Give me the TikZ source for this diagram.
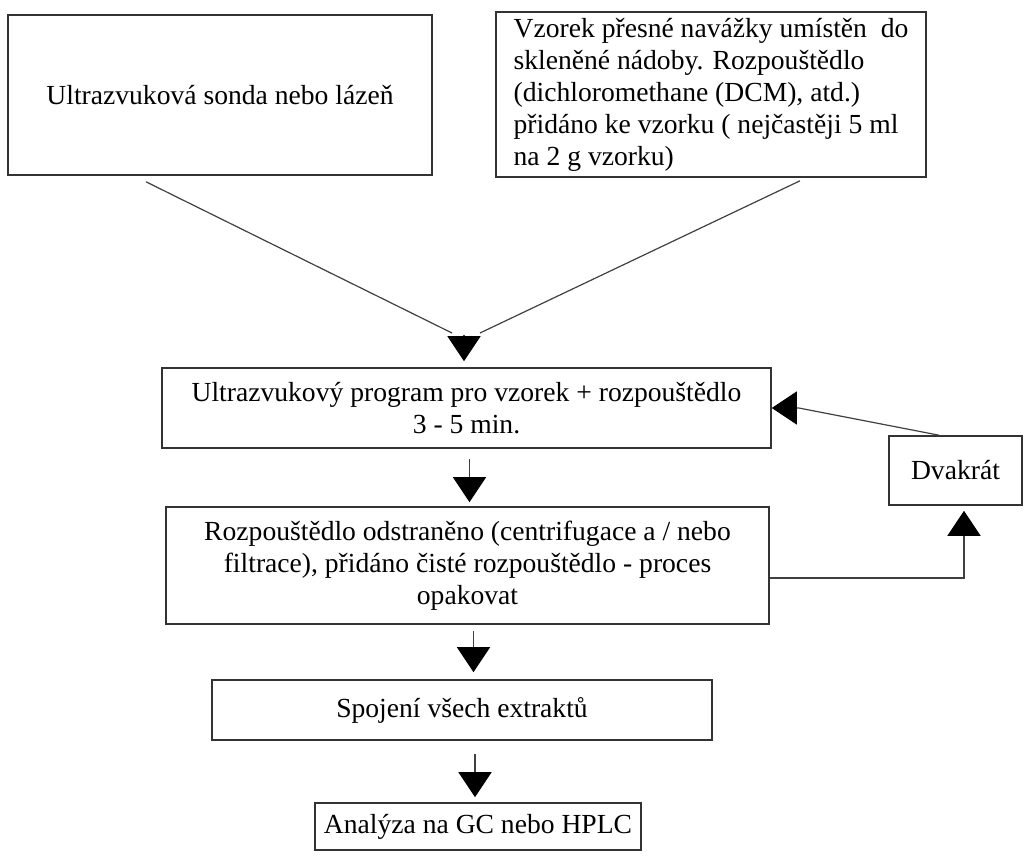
\documentclass[tikz,border=0pt]{standalone}
\usepackage{fontspec}
\setmainfont{Liberation Serif}
\usetikzlibrary{arrows.meta,calc}

\tikzset{
    box/.style={draw=black!80, line width=0.8pt, inner sep=0pt, align=center,
        font=\fontsize{13.8}{16}\selectfont},
    link/.style={draw=black!75, line width=0.6pt},
    flow/.style={link, -{Triangle[width=16.5pt,length=12.5pt,color=black]}},
}

\begin{document}
\begin{tikzpicture}[x=0.5pt, y=-0.5pt]
    \useasboundingbox (0,0) rectangle (1028,856);
    \node[box, minimum width=212pt, minimum height=80pt] (sonda) at (220,95) {Ultrazvuková sonda nebo lázeň};
    \node[box, align=left, minimum width=215pt, minimum height=82.5pt] (vzorek) at (711,94.5)
        {Vzorek přesné navážky umístěn \ do\\skleněné nádoby. Rozpouštědlo\\(dichloromethane (DCM), atd.)\\přidáno ke vzorku ( nejčastěji 5 ml\\na 2 g vzorku)};
    \node[box, minimum width=304.5pt, minimum height=40pt] (program) at (466.5,408)
        {Ultrazvukový program pro vzorek + rozpouštědlo\\3 - 5 min.};
    \node[box, minimum width=66.5pt, minimum height=34.5pt] (dvakrat) at (955.5,470.5) {Dvakrát};
    \node[box, minimum width=301.5pt, minimum height=58.5pt] (odstran) at (467.5,565.5)
        {Rozpouštědlo odstraněno (centrifugace a / nebo\\filtrace), přidáno čisté rozpouštědlo - proces\\opakovat};
    \node[box, minimum width=250pt, minimum height=30pt] (spojeni) at (462,710) {Spojení všech extraktů};
    \node[box, minimum width=163pt, minimum height=23.5pt] (analyza) at (478,826.5) {Analýza na GC nebo HPLC};

    \coordinate (meet) at (464,335);
    \coordinate (out1) at ($(program.south)+(3,0)$);
    \coordinate (out2) at ($(odstran.south)+(6,0)$);
    \coordinate (out3) at ($(spojeni.south)+(13,0)$);
    \coordinate (back) at ($(odstran.east)+(0,12.5)$);
    \coordinate (up) at ($(dvakrat.south)+(8.5,0)$);
    \coordinate (ret) at ($(dvakrat.north)+(-16.5,0)$);
    \coordinate (bend) at ($(program.east)+(27,0)$);

    \draw[link] ($(sonda.south)+(-74,6)$) -- ($(meet)+(-12,-2)$);
    \draw[link] ($(vzorek.south)+(89,3)$) -- ($(meet)+(16,-2)$);
    \draw[flow, shorten >=3pt] (meet) -- (meet |- program.north);

    \draw[flow, shorten <=5pt, shorten >=2pt] (out1) -- (out1 |- odstran.north);
    \draw[flow, shorten <=3pt, shorten >=3.5pt] (out2) -- (out2 |- spojeni.north);
    \draw[flow, shorten <=6.5pt, shorten >=2.5pt] (out3) -- (out3 |- analyza.north);

    \draw[flow, shorten >=2.5pt] (back) -| (up);
    \draw[flow] (ret) -- (bend) -- (program.east);
\end{tikzpicture}
\end{document}
